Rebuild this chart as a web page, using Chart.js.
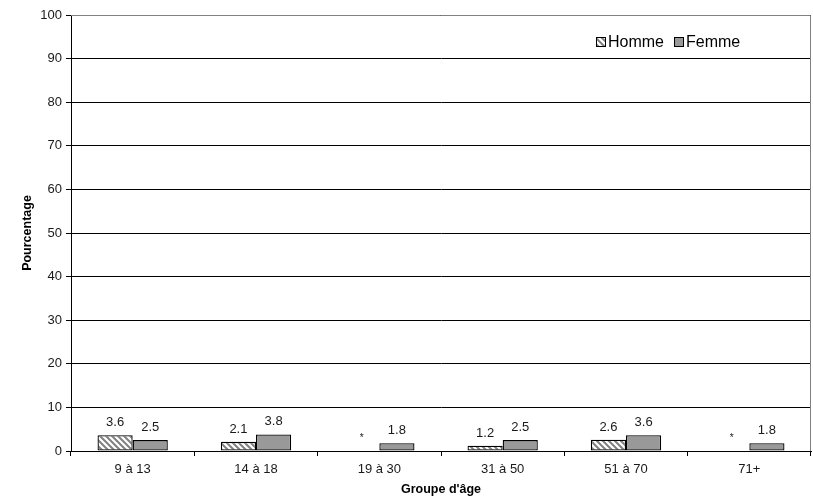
<!DOCTYPE html>
<html>
<head>
<meta charset="utf-8">
<script src="https://cdn.jsdelivr.net/npm/chart.js@4/dist/chart.umd.min.js"></script>
<style>
  html, body { margin: 0; padding: 0; background: #fff; }
  #wrap { width: 813px; height: 503px; }
</style>
</head>
<body>
<div id="wrap"><canvas id="chart" width="813" height="503"></canvas></div>
<script>
// -------------------------------
// Data
// -------------------------------
const ageGroups = ["9 à 13", "14 à 18", "19 à 30", "31 à 50", "51 à 70", "71+"];
const hommeValues = [3.6, 2.1, null, 1.2, 2.6, null];
const femmeValues = [2.5, 3.8, 1.8, 2.5, 3.6, 1.8];
const seriesLabels = ["Homme", "Femme"];
const yTicks = [0, 10, 20, 30, 40, 50, 60, 70, 80, 90, 100];

const FONT = "'Liberation Sans', Arial, sans-serif";

// -------------------------------
// Hatch pattern for Homme
// -------------------------------
function makeHatch() {
    const p = 6;
    const c = document.createElement("canvas");
    c.width = p; c.height = p;
    const g = c.getContext("2d");
    g.fillStyle = "#fff";
    g.fillRect(0, 0, p, p);
    g.strokeStyle = "#808080";
    g.lineWidth = 2;
    g.beginPath();
    g.moveTo(-1, -1); g.lineTo(p + 1, p + 1);
    g.moveTo(-1, p - 1); g.lineTo(1, p + 1);
    g.moveTo(p - 1, -1); g.lineTo(p + 1, 1);
    g.stroke();
    return g.createPattern(c, "repeat");
}
const hatch = makeHatch();

// -------------------------------
// Plugins
// -------------------------------
const frameAndLabels = {
    id: "frameAndLabels",
    beforeDatasetsDraw(chart) {
        const { ctx, chartArea: a } = chart;
        ctx.save();
        ctx.strokeStyle = "#808080";
        ctx.lineWidth = 1;
        ctx.beginPath();
        ctx.moveTo(a.left, a.top + 0.5);
        ctx.lineTo(a.right - 0.5, a.top + 0.5);
        ctx.lineTo(a.right - 0.5, a.bottom);
        ctx.stroke();
        ctx.restore();
    },
    afterDatasetsDraw(chart) {
        const { ctx } = chart;
        const yScale = chart.scales.y;
        ctx.save();
        ctx.font = "13px " + FONT;
        ctx.fillStyle = "#1a1a1a";
        ctx.textAlign = "center";
        ctx.textBaseline = "alphabetic";
        chart.data.datasets.forEach((ds, i) => {
            const meta = chart.getDatasetMeta(i);
            meta.data.forEach((bar, j) => {
                const v = ds.data[j];
                if (v === null) {
                    ctx.font = "10px " + FONT;
                    ctx.fillText("*", bar.x, yScale.getPixelForValue(0) - 10);
                    ctx.font = "13px " + FONT;
                } else {
                    ctx.fillText(v.toFixed(1), bar.x, bar.y - 9);
                }
            });
        });

        // legend inside plot, top right
        ctx.font = "16px " + FONT;
        ctx.textAlign = "left";
        ctx.textBaseline = "middle";
        let x = 596;
        const y = 42;
        chart.data.datasets.forEach((ds) => {
            ctx.fillStyle = ds.backgroundColor;
            ctx.fillRect(x, y - 5, 10, 10);
            ctx.strokeStyle = "#000";
            ctx.lineWidth = 1;
            ctx.strokeRect(x + 0.5, y - 4.5, 9, 9);
            ctx.fillStyle = "#000";
            ctx.fillText(ds.label, x + 12, y + 1);
            x += 12 + ctx.measureText(ds.label).width + 10;
        });
        ctx.restore();
    }
};

// -------------------------------
// Chart
// -------------------------------
const ctx = document.getElementById("chart").getContext("2d");
const chart = new Chart(ctx, {
    type: "bar",
    data: {
        labels: ageGroups,
        datasets: [
            {
                label: seriesLabels[0],
                data: hommeValues,
                backgroundColor: hatch,
                borderColor: "#000",
                borderWidth: 1.3,
                borderSkipped: false
            },
            {
                label: seriesLabels[1],
                data: femmeValues,
                backgroundColor: "#999999",
                borderColor: "#000",
                borderWidth: 1.3,
                borderSkipped: false
            }
        ]
    },
    options: {
        responsive: false,
        animation: false,
        layout: { padding: { top: 15, right: 2, left: 0, bottom: 0 } },
        categoryPercentage: 0.57,
        barPercentage: 1.0,
        plugins: {
            legend: { display: false },
            tooltip: { enabled: false }
        },
        scales: {
            x: {
                grid: {
                    offset: true,
                    drawOnChartArea: false,
                    color: "#000",
                    tickLength: 5
                },
                border: { color: "#000", width: 1 },
                ticks: {
                    color: "#1a1a1a",
                    font: { family: FONT, size: 13 },
                    padding: 6
                },
                title: {
                    display: true,
                    text: "Groupe d'âge",
                    color: "#000",
                    font: { family: FONT, size: 12.5, weight: "bold" },
                    padding: { top: 8, bottom: 6 }
                },
                afterFit(scale) { scale.height = 52; }
            },
            y: {
                min: 0,
                max: 100,
                afterBuildTicks(scale) {
                    scale.ticks = yTicks.map(v => ({ value: v }));
                },
                grid: {
                    color: "#000",
                    tickLength: 5
                },
                border: { color: "#000", width: 1 },
                ticks: {
                    color: "#1a1a1a",
                    font: { family: FONT, size: 13 },
                    padding: 4
                },
                title: {
                    display: true,
                    text: "Pourcentage",
                    color: "#000",
                    font: { family: FONT, size: 12.5, weight: "bold" },
                    padding: { top: 20, bottom: 8 }
                },
                afterFit(scale) { scale.width = 71; }
            }
        }
    },
    plugins: [frameAndLabels]
});
</script>
</body>
</html>
